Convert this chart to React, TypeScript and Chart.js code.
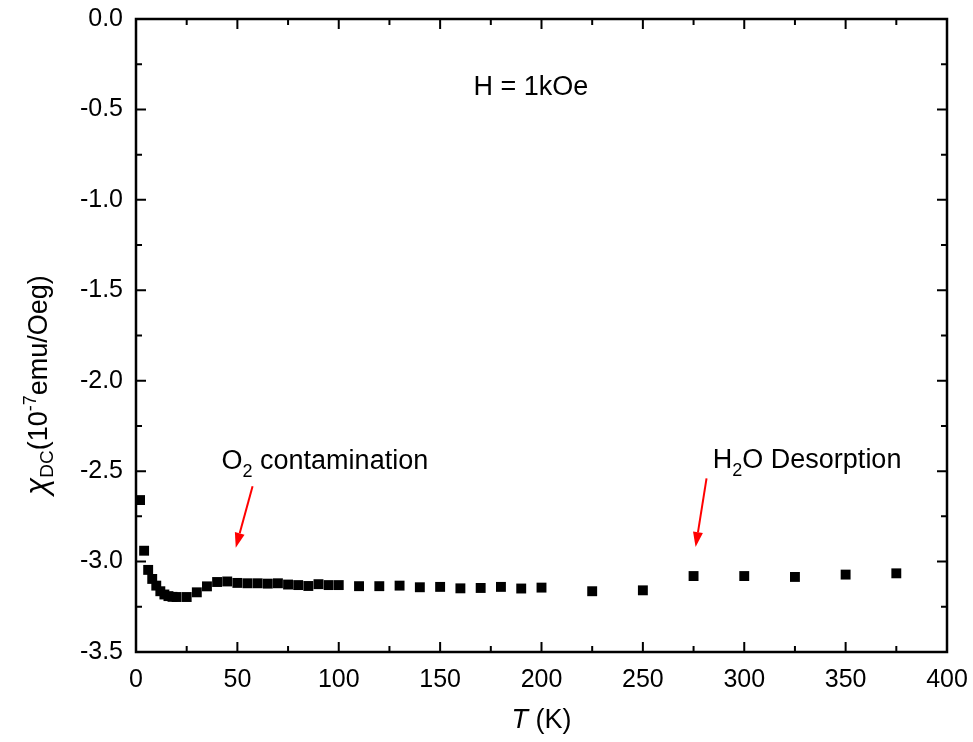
import React, { useEffect, useRef } from "react";
import { Chart, registerables } from "chart.js";
Chart.register(...registerables);

const temperatureK = [2, 4, 6, 8, 10, 12, 14, 16, 18, 20, 25, 30, 35, 40, 45, 50, 55, 60, 65, 70, 75, 80, 85, 90, 95, 100, 110, 120, 130, 140, 150, 160, 170, 180, 190, 200, 225, 250, 275, 300, 325, 350, 375];
const chiDC = [-2.66, -2.94, -3.046, -3.096, -3.133, -3.164, -3.182, -3.191, -3.195, -3.196, -3.196, -3.17, -3.137, -3.113, -3.11, -3.118, -3.12, -3.12, -3.122, -3.12, -3.127, -3.13, -3.135, -3.125, -3.13, -3.13, -3.136, -3.136, -3.133, -3.142, -3.14, -3.148, -3.146, -3.14, -3.149, -3.144, -3.164, -3.159, -3.08, -3.08, -3.085, -3.072, -3.065];

const xMin = 0, xMax = 400, xMajorStep = 50, xMinorStep = 25;
const yMin = -3.5, yMax = 0, yMajorStep = 0.5, yMinorStep = 0.25;

// annotation labels: anchor (T, chi) of left end of baseline
const labelT = [166.5, 42.2, 284.5];
const labelChi = [-0.419, -2.489, -2.485];
const labelMain = [["H = 1kOe"], ["O", " contamination"], ["H", "O Desorption"]];
const labelSub = [[""], ["2"], ["2"]];

// arrows: from (T, chi) to (T, chi)
const arrowFromT = [57.5, 281.4];
const arrowFromChi = [-2.583, -2.54];
const arrowToT = [49.2, 276];
const arrowToChi = [-2.924, -2.92];

const FONT = "'Liberation Sans', Arial, Helvetica, sans-serif";

type Seg = { t: string; size: number; dy: number; italic?: boolean };

function drawRich(ctx: CanvasRenderingContext2D, segs: Seg[], x: number, y: number, align: "left" | "center") {
  let w = 0;
  for (const s of segs) {
    ctx.font = `${s.italic ? "italic " : ""}${s.size}px ${FONT}`;
    w += ctx.measureText(s.t).width;
  }
  let cx = align === "center" ? x - w / 2 : x;
  ctx.textBaseline = "alphabetic";
  ctx.textAlign = "left";
  for (const s of segs) {
    ctx.font = `${s.italic ? "italic " : ""}${s.size}px ${FONT}`;
    ctx.fillText(s.t, cx, y + s.dy);
    cx += ctx.measureText(s.t).width;
  }
}

const framePlugin = {
  id: "framePlugin",
  afterDraw(chart: any) {
    const { ctx, chartArea: a, scales } = chart;
    const x = scales.x, y = scales.y;
    ctx.save();
    ctx.strokeStyle = "#000";
    ctx.lineWidth = 2.5;
    ctx.strokeRect(a.left, a.top, a.right - a.left, a.bottom - a.top);
    ctx.lineWidth = 2;
    ctx.beginPath();
    for (let v = xMin; v <= xMax + 1e-9; v += xMinorStep) {
      const px = x.getPixelForValue(v);
      const len = Math.abs(v % xMajorStep) < 1e-9 ? 10 : 6;
      ctx.moveTo(px, a.bottom); ctx.lineTo(px, a.bottom - len);
      ctx.moveTo(px, a.top); ctx.lineTo(px, a.top + len);
    }
    for (let v = yMin; v <= yMax + 1e-9; v += yMinorStep) {
      const py = y.getPixelForValue(v);
      const r = Math.abs(v / yMajorStep - Math.round(v / yMajorStep)) < 1e-6;
      const len = r ? 10 : 6;
      ctx.moveTo(a.left, py); ctx.lineTo(a.left + len, py);
      ctx.moveTo(a.right, py); ctx.lineTo(a.right - len, py);
    }
    ctx.stroke();

    // annotations
    ctx.fillStyle = "#000";
    for (let i = 0; i < labelT.length; i++) {
      const px = x.getPixelForValue(labelT[i]);
      const py = y.getPixelForValue(labelChi[i]);
      const segs: Seg[] = [];
      labelMain[i].forEach((m, k) => {
        if (k > 0 && labelSub[i][0]) segs.push({ t: labelSub[i][0], size: 18, dy: 8 });
        segs.push({ t: m, size: 27, dy: 0 });
      });
      drawRich(ctx, segs, px, py, "left");
    }
    // arrows
    ctx.strokeStyle = "#ff0000";
    ctx.fillStyle = "#ff0000";
    ctx.lineWidth = 2;
    for (let i = 0; i < arrowFromT.length; i++) {
      const x1 = x.getPixelForValue(arrowFromT[i]);
      const y1 = y.getPixelForValue(arrowFromChi[i]);
      const x2 = x.getPixelForValue(arrowToT[i]);
      const y2 = y.getPixelForValue(arrowToChi[i]);
      const ang = Math.atan2(y2 - y1, x2 - x1);
      const hl = 15, hw = 5;
      const bx = x2 - hl * Math.cos(ang), by = y2 - hl * Math.sin(ang);
      ctx.beginPath();
      ctx.moveTo(x1, y1); ctx.lineTo(bx, by);
      ctx.stroke();
      ctx.beginPath();
      ctx.moveTo(x2, y2);
      ctx.lineTo(bx + hw * Math.sin(ang), by - hw * Math.cos(ang));
      ctx.lineTo(bx - hw * Math.sin(ang), by + hw * Math.cos(ang));
      ctx.closePath();
      ctx.fill();
    }

    // axis titles
    ctx.fillStyle = "#000";
    drawRich(ctx, [
      { t: "T", size: 27, dy: 0, italic: true },
      { t: " (K)", size: 27, dy: 0 },
    ], (a.left + a.right) / 2, 728, "center");

    ctx.save();
    ctx.translate(47, 385);
    ctx.rotate(-Math.PI / 2);
    drawRich(ctx, [
      { t: "χ", size: 31, dy: 0, italic: true },
      { t: "DC", size: 19, dy: 6 },
      { t: "(10", size: 27, dy: 0 },
      { t: "-7", size: 18, dy: -11 },
      { t: "emu/Oeg)", size: 27, dy: 0 },
    ], 0, 0, "center");
    ctx.restore();
    ctx.restore();
  },
};

const zeroPad = (s: any) => {
  s.paddingTop = 0;
  s.paddingBottom = 0;
  s.paddingLeft = 0;
  s.paddingRight = 0;
};

export default function App() {
  const ref = useRef<HTMLCanvasElement>(null);
  useEffect(() => {
    document.body.style.margin = "0";
    const chart = new Chart(ref.current!, {
      type: "scatter",
      data: {
        datasets: [
          {
            data: temperatureK.map((t, i) => ({ x: t, y: chiDC[i] })),
            pointStyle: "rect",
            pointRadius: 7,
            pointBorderWidth: 0,
            backgroundColor: "#000",
            borderColor: "#000",
            showLine: false,
          },
        ],
      },
      options: {
        animation: false,
        responsive: true,
        maintainAspectRatio: false,
        layout: { padding: { top: 19, right: 26, bottom: 0, left: 0 } },
        plugins: { legend: { display: false }, tooltip: { enabled: false } },
        scales: {
          x: {
            type: "linear",
            min: xMin,
            max: xMax,
            grid: { display: false, drawTicks: false },
            border: { display: false },
            afterFit: (s: any) => { s.height = 90; zeroPad(s); },
            ticks: { stepSize: xMajorStep, padding: 13, color: "#000", font: { size: 25, family: FONT } },
          },
          y: {
            type: "linear",
            min: yMin,
            max: yMax,
            grid: { display: false, drawTicks: false },
            border: { display: false },
            afterFit: (s: any) => { s.width = 136; zeroPad(s); },
            ticks: {
              stepSize: yMajorStep,
              padding: 13,
              color: "#000",
              font: { size: 25, family: FONT },
              callback: (v: any) => Number(v).toFixed(1),
            },
          },
        },
      },
      plugins: [framePlugin],
    });
    return () => chart.destroy();
  }, []);
  return (
    <div style={{ width: 973, height: 742, position: "relative", background: "#fff" }}>
      <canvas ref={ref} />
    </div>
  );
}
